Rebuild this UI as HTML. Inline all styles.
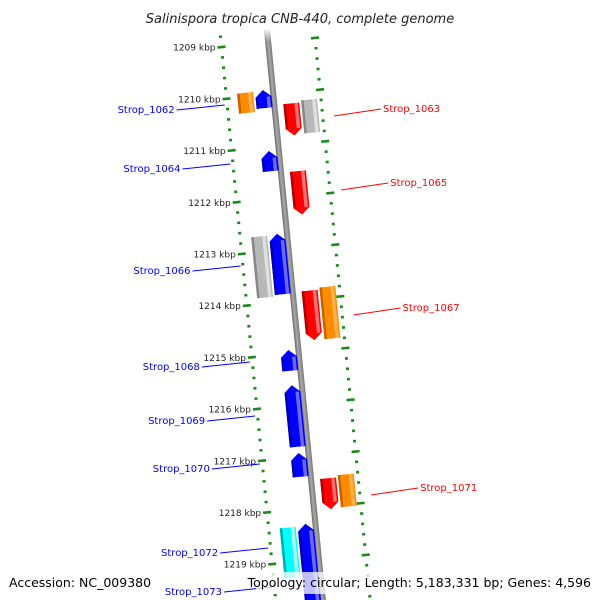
<!DOCTYPE html>
<html><head><meta charset="utf-8"><style>
html,body{margin:0;padding:0;background:#fff;width:600px;height:600px;overflow:hidden}
svg{display:block}
.k{font-family:"DejaVu Sans","Liberation Sans",sans-serif;font-size:9px;fill:#222}
.g{font-family:"DejaVu Sans","Liberation Sans",sans-serif;font-size:10px}
</style></head><body>
<svg id="c" width="600" height="600" viewBox="0 0 600 600" xmlns="http://www.w3.org/2000/svg">
<defs>
<linearGradient id="bb" x1="0" x2="1" y1="0" y2="0"><stop offset="0" stop-color="#666"/><stop offset="0.45" stop-color="#aaa"/><stop offset="1" stop-color="#777"/></linearGradient>
<linearGradient id="fade" x1="0" x2="0" y1="0" y2="1"><stop offset="0" stop-color="#fff" stop-opacity="1"/><stop offset="1" stop-color="#fff" stop-opacity="0"/></linearGradient>
<clipPath id="clip"><rect x="0" y="30" width="600" height="570"/></clipPath>
</defs>
<text x="300" y="23" text-anchor="middle" font-family="DejaVu Sans, Liberation Sans, sans-serif" font-size="13" font-style="italic" fill="#222">Salinispora tropica CNB-440, complete genome</text>
<g clip-path="url(#clip)"><g id="map" transform="rotate(-5.6 293.5 300) translate(293.5 300)"></g></g>
<rect x="250" y="28" width="40" height="14" fill="url(#fade)"/>
<g id="labels"></g>
<rect x="256" y="572" width="340" height="22" fill="#fff" fill-opacity="0.75"/>
<text x="9" y="587" font-family="DejaVu Sans, Liberation Sans, sans-serif" font-size="12.5" fill="#000">Accession: NC_009380</text>
<text x="591" y="587" text-anchor="end" font-family="DejaVu Sans, Liberation Sans, sans-serif" font-size="12.5" fill="#000">Topology: circular; Length: 5,183,331 bp; Genes: 4,596</text>
</svg>
<script>
const featStart=[1209.92,1209.90,1210.21,1210.17,1211.08,1211.52,1212.70,1212.68,1213.83,1213.79,1214.93,1215.61,1216.92,1217.46,1217.42,1218.33,1218.29];
const featEnd=[1210.31,1210.25,1210.83,1210.81,1211.47,1212.36,1213.88,1213.85,1214.79,1214.79,1215.33,1216.80,1217.38,1218.06,1218.04,1219.30,1219.98];
const featTrack=['LO','LI','RI','RO','LI','RI','LO','LI','RI','RO','LI','LI','LI','RI','RO','LO','LI'];
const featType=['orange','blue','red','gray','blue','red','gray','blue','red','orange','blue','blue','blue','red','orange','cyan','blue'];
const kbpTicks=[1209,1210,1211,1212,1213,1214,1215,1216,1217,1218,1219];
const leftLabels=['Strop_1062','Strop_1064','Strop_1066','Strop_1068','Strop_1069','Strop_1070','Strop_1072','Strop_1073'];
const leftLabelY=[110,169,271,367,421,469,553,592];
const rightLabels=['Strop_1063','Strop_1065','Strop_1067','Strop_1071'];
const rightLabelY=[109,183,308,488];

const NS='http://www.w3.org/2000/svg';
const map=document.getElementById('map'),lab=document.getElementById('labels');
function vOf(k){return (k-1214)*51.95+1;}
function scr(u,v){return [293.5+0.9952*u+0.0976*v,300-0.0976*u+0.9952*v];}
function mk(tag,attrs,parent){const e=document.createElementNS(NS,tag);for(const a in attrs)e.setAttribute(a,attrs[a]);parent.appendChild(e);return e;}
const trackU={LO:-28,LI:-10,RI:17,RO:35};
const pal={orange:['#ff8c00','#c86400','#ffb24a'],blue:['#0000ff','#0000b0','#6a6aff'],red:['#ff0000','#b00000','#ff7070'],gray:['#b8b8b8','#888','#e0e0e0'],cyan:['#00ffff','#00b0b0','#b0ffff']};

let bbl=mk('rect',{x:-3,y:-340,width:6,height:700,fill:'url(#bb)'},map);



for(let t=1208.6;t<=1219.9;t+=0.2){
  const k=Math.round(t*10)/10;
  const major=Math.abs(k-Math.round(k))<0.01;
  const v=vOf(k);
  [-47,47].forEach(u=>{
    const len=major?8:3;
    const r=mk('rect',{x:u-len/2,y:v-1.3,width:len,height:2.6,fill:'#1a8a1a'},map);
    
    
  });
}
kbpTicks.forEach(k=>{
  const p=scr(-53,vOf(k));
  const t=mk('text',{x:p[0],y:p[1]+3,'text-anchor':'end',class:'k'},lab);
  t.textContent=k+' kbp';
  
  
});

featStart.forEach((s,i)=>{
  const u=trackU[featTrack[i]],w=16,x0=u-w/2,x1=u+w/2;
  const v0=vOf(s),v1=vOf(featEnd[i]);
  const c=pal[featType[i]];
  const g=mk('g',{},map);
  
  
  let pts;
  const ah=Math.min(7,(v1-v0)/2);
  const isArrow=featType[i]==='blue'||featType[i]==='red';
  if(featType[i]==='blue') pts=[[x0,v1],[x0,v0+ah],[u,v0],[x1,v0+ah],[x1,v1]];
  else if(featType[i]==='red') pts=[[x0,v0],[x1,v0],[x1,v1-ah],[u,v1],[x0,v1-ah]];
  else pts=[[x0,v0],[x1,v0],[x1,v1],[x0,v1]];
  mk('polygon',{points:pts.map(p=>p.join(',')).join(' '),fill:c[0]},g);
  const sy=v0+(featType[i]==='blue'?ah:0), sh=(v1-v0)-(isArrow?ah:0);
  mk('rect',{x:x0,y:sy,width:2.5,height:sh,fill:c[1]},g);
  mk('rect',{x:x1-5,y:sy,width:3.5,height:sh,fill:c[2]},g);
});

function addLabel(txt,y,left){
  const g=mk('g',{},lab);
  
  
  const col=left?'#0000ff':'#ff0000';
  if(left){
    const p=scr(-53,(y-300-4.6)/0.9952);
    const xe=p[0]+3;
    mk('line',{x1:xe-48,y1:y,x2:xe,y2:y-5,stroke:col,'stroke-width':1},g);
    const t=mk('text',{x:xe-50,y:y+3,'text-anchor':'end',class:'g',fill:col},g);t.textContent=txt;
  }else{
    const p=scr(52,(y-300+4.6)/0.9952);
    const xs=p[0]+7;
    mk('line',{x1:xs,y1:y+7,x2:xs+47,y2:y,stroke:col,'stroke-width':1},g);
    const t=mk('text',{x:xs+49,y:y+3,class:'g',fill:col},g);t.textContent=txt;
  }
}
leftLabels.forEach((t,i)=>addLabel(t,leftLabelY[i],true));
rightLabels.forEach((t,i)=>addLabel(t,rightLabelY[i],false));
</script>
</body></html>
